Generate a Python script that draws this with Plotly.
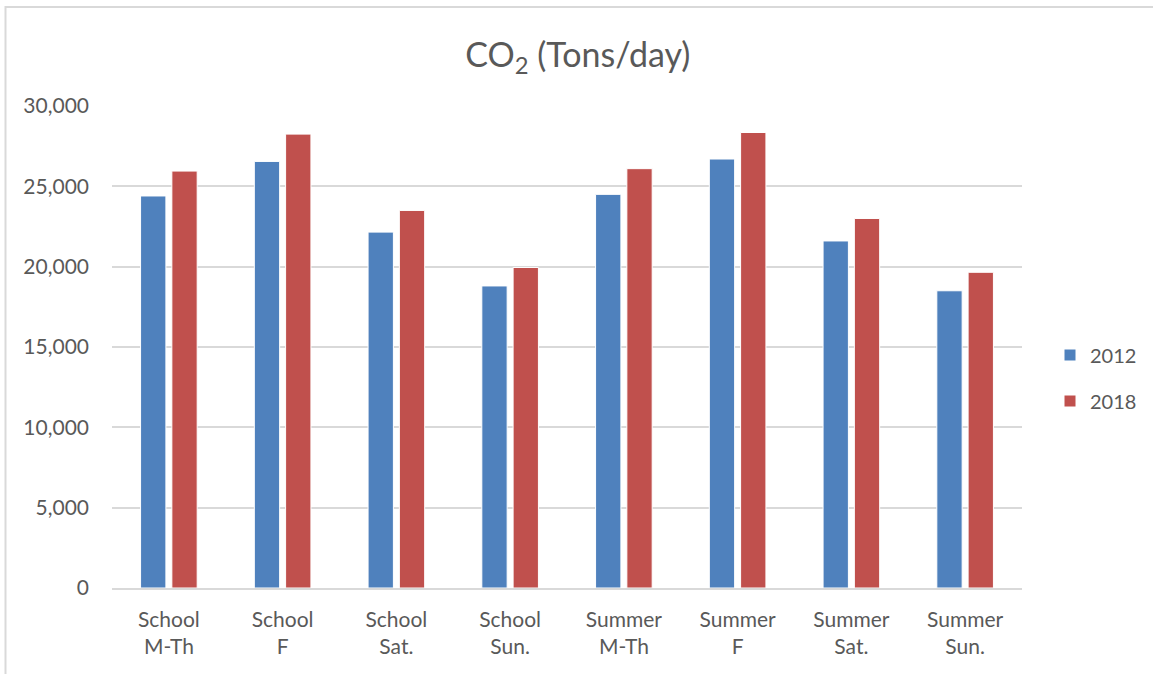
import plotly.graph_objects as go

categories = ["School<br>M-Th", "School<br>F", "School<br>Sat.", "School<br>Sun.",
              "Summer<br>M-Th", "Summer<br>F", "Summer<br>Sat.", "Summer<br>Sun."]
values_2012 = [24400, 26550, 22150, 18800, 24500, 26700, 21600, 18500]
values_2018 = [25950, 28250, 23500, 19950, 26100, 28350, 23000, 19650]
series_names = ["2012", "2018"]
tick_vals = [0, 5000, 10000, 15000, 20000, 25000, 30000]
tick_text = ["0", "5,000", "10,000", "15,000", "20,000", "25,000", "30,000"]

W, H = 1153, 674
L, R, T, B = 112, 131, 106, 86
pw, ph = W - L - R, H - T - B

def px(x):
    return (x - L) / pw

def py(y):
    return (H - B - y) / ph

FONT = "Lato"
TXT = "#595959"

fig = go.Figure()
fig.add_trace(go.Bar(x=categories, y=values_2012, name=series_names[0], legendgroup="a",
                     marker=dict(color="#4F81BD", line=dict(color="white", width=1))))
fig.add_trace(go.Bar(x=categories, y=values_2018, name=series_names[1], legendgroup="b",
                     marker=dict(color="#C0504D", line=dict(color="white", width=1))))

fig.update_layout(
    width=W, height=H,
    margin=dict(l=L, r=R, t=T, b=B, autoexpand=False),
    paper_bgcolor="white", plot_bgcolor="white",
    barmode="group", bargap=0.45, bargroupgap=0.19,
    font=dict(family=FONT, color=TXT, size=21),
    title=dict(text="CO<sub>2</sub> (Tons/day)", x=px(568), xanchor="center",
               y=1 - 55 / H, yanchor="middle",
               font=dict(family=FONT, size=34, color=TXT)),
    showlegend=True,
    legend=dict(x=px(1050), xanchor="left", y=py(378), yanchor="middle",
                font=dict(family=FONT, size=20, color=TXT),
                itemwidth=30, tracegroupgap=17, bgcolor="rgba(0,0,0,0)"),
    xaxis=dict(showgrid=False, showline=True, linecolor="#d9d9d9", linewidth=1.5,
               ticks="", tickfont=dict(family=FONT, size=21, color=TXT),
               ticklabelstandoff=12, fixedrange=True),
    yaxis=dict(range=[0, 30000], tickvals=tick_vals, ticktext=tick_text,
               showgrid=True, gridcolor="#d9d9d9", gridwidth=1.5,
               zeroline=False, showline=False, ticks="",
               tickfont=dict(family=FONT, size=21, color=TXT), ticklabelstandoff=22,
               fixedrange=True),
    shapes=[dict(type="rect", xref="paper", yref="paper",
                 x0=px(5.5), x1=px(1160), y0=py(7), y1=py(680),
                 line=dict(color="#d9d9d9", width=2), fillcolor="rgba(0,0,0,0)",
                 layer="below")],
)

fig.write_html("out.html", config={"displayModeBar": False},
               post_script="document.body.style.margin='0';")
